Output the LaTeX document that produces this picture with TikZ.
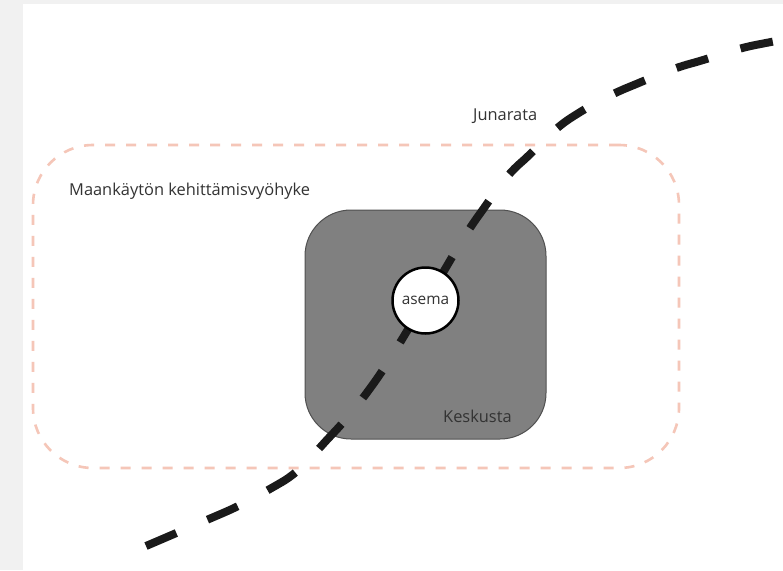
\documentclass[tikz,border=0pt]{standalone}
\usepackage{fontspec}
\setmainfont{Open Sans}
\begin{document}
\begin{tikzpicture}[x=1pt,y=-1pt,
  label text/.style={inner sep=0pt, text=labelgray, font=\fontsize{16.4}{19}\selectfont},
  zonebox/.style={draw=zonepink, line width=2.6pt, dash pattern=on 10pt off 11pt,
    rounded corners=60pt, minimum width=646pt, minimum height=323pt, inner sep=0pt},
  centrebox/.style={draw=centreedge, fill=centregray, line width=1pt,
    rounded corners=46pt, minimum width=241pt, minimum height=229pt, inner sep=0pt},
  stationdot/.style={circle, draw=black, fill=white, line width=2.5pt,
    minimum size=66pt, inner sep=0pt, text=labelgray, font=\fontsize{15.4}{18}\selectfont},
  railline/.style={draw=railblack, line width=8pt, dash pattern=on 33pt off 33.9pt}
]
\definecolor{pagegray}{HTML}{F1F1F1}
\definecolor{zonepink}{HTML}{F5C6B8}
\definecolor{centregray}{HTML}{808080}
\definecolor{centreedge}{HTML}{505050}
\definecolor{railblack}{HTML}{1A1A1A}
\definecolor{labelgray}{HTML}{333333}

% page and canvas
\useasboundingbox (0,0) rectangle (783,570);
\fill[pagegray] (0,0) rectangle (783,570);
\fill[white] (23,4) rectangle (783,570);

% land-use development zone
\node[zonebox] (zone) at (356,306.5) {};
\node[label text, anchor=base west] (zonelabel) at (69,195) {Maankäytön kehittämisvyöhyke};

% town centre
\node[centrebox] (keskusta) at (425.5,324.5) {};
\node[label text, anchor=base west] (keskustalabel) at (443,422) {Keskusta};

% railway: shallow, steep through the centre, shallow again
\coordinate (railS) at (146,546);
\coordinate (railE) at (773,41.6);
\draw[railline] (railS) -- (223,513)
  .. controls (243.4,504.3) and (262.8,493.1) .. (282,482)
  .. controls (301.7,470.6) and (315.7,451.4) .. (331.5,435)
  .. controls (346.5,419.5) and (359.8,402.5) .. (372.5,385)
  .. controls (391.7,358.5) and (407.2,329.4) .. (425,302)
  .. controls (443.6,273.4) and (459,242.6) .. (479,215)
  .. controls (492.1,197) and (503.7,177.6) .. (520.5,163)
  .. controls (537.3,148.4) and (551.4,130.6) .. (570,118.5)
  .. controls (588.7,106.3) and (608.3,95.4) .. (629,87)
  .. controls (649.5,78.7) and (669.7,69.2) .. (691,63.5)
  .. controls (712.6,57.7) and (733.5,49.3) .. (755.5,45)
  -- (railE);
\node[label text, anchor=base west] (raillabel) at (473,120) {Junarata};

% station
\node[stationdot] (asema) at (425.5,300.5) {asema};
\end{tikzpicture}
\end{document}
